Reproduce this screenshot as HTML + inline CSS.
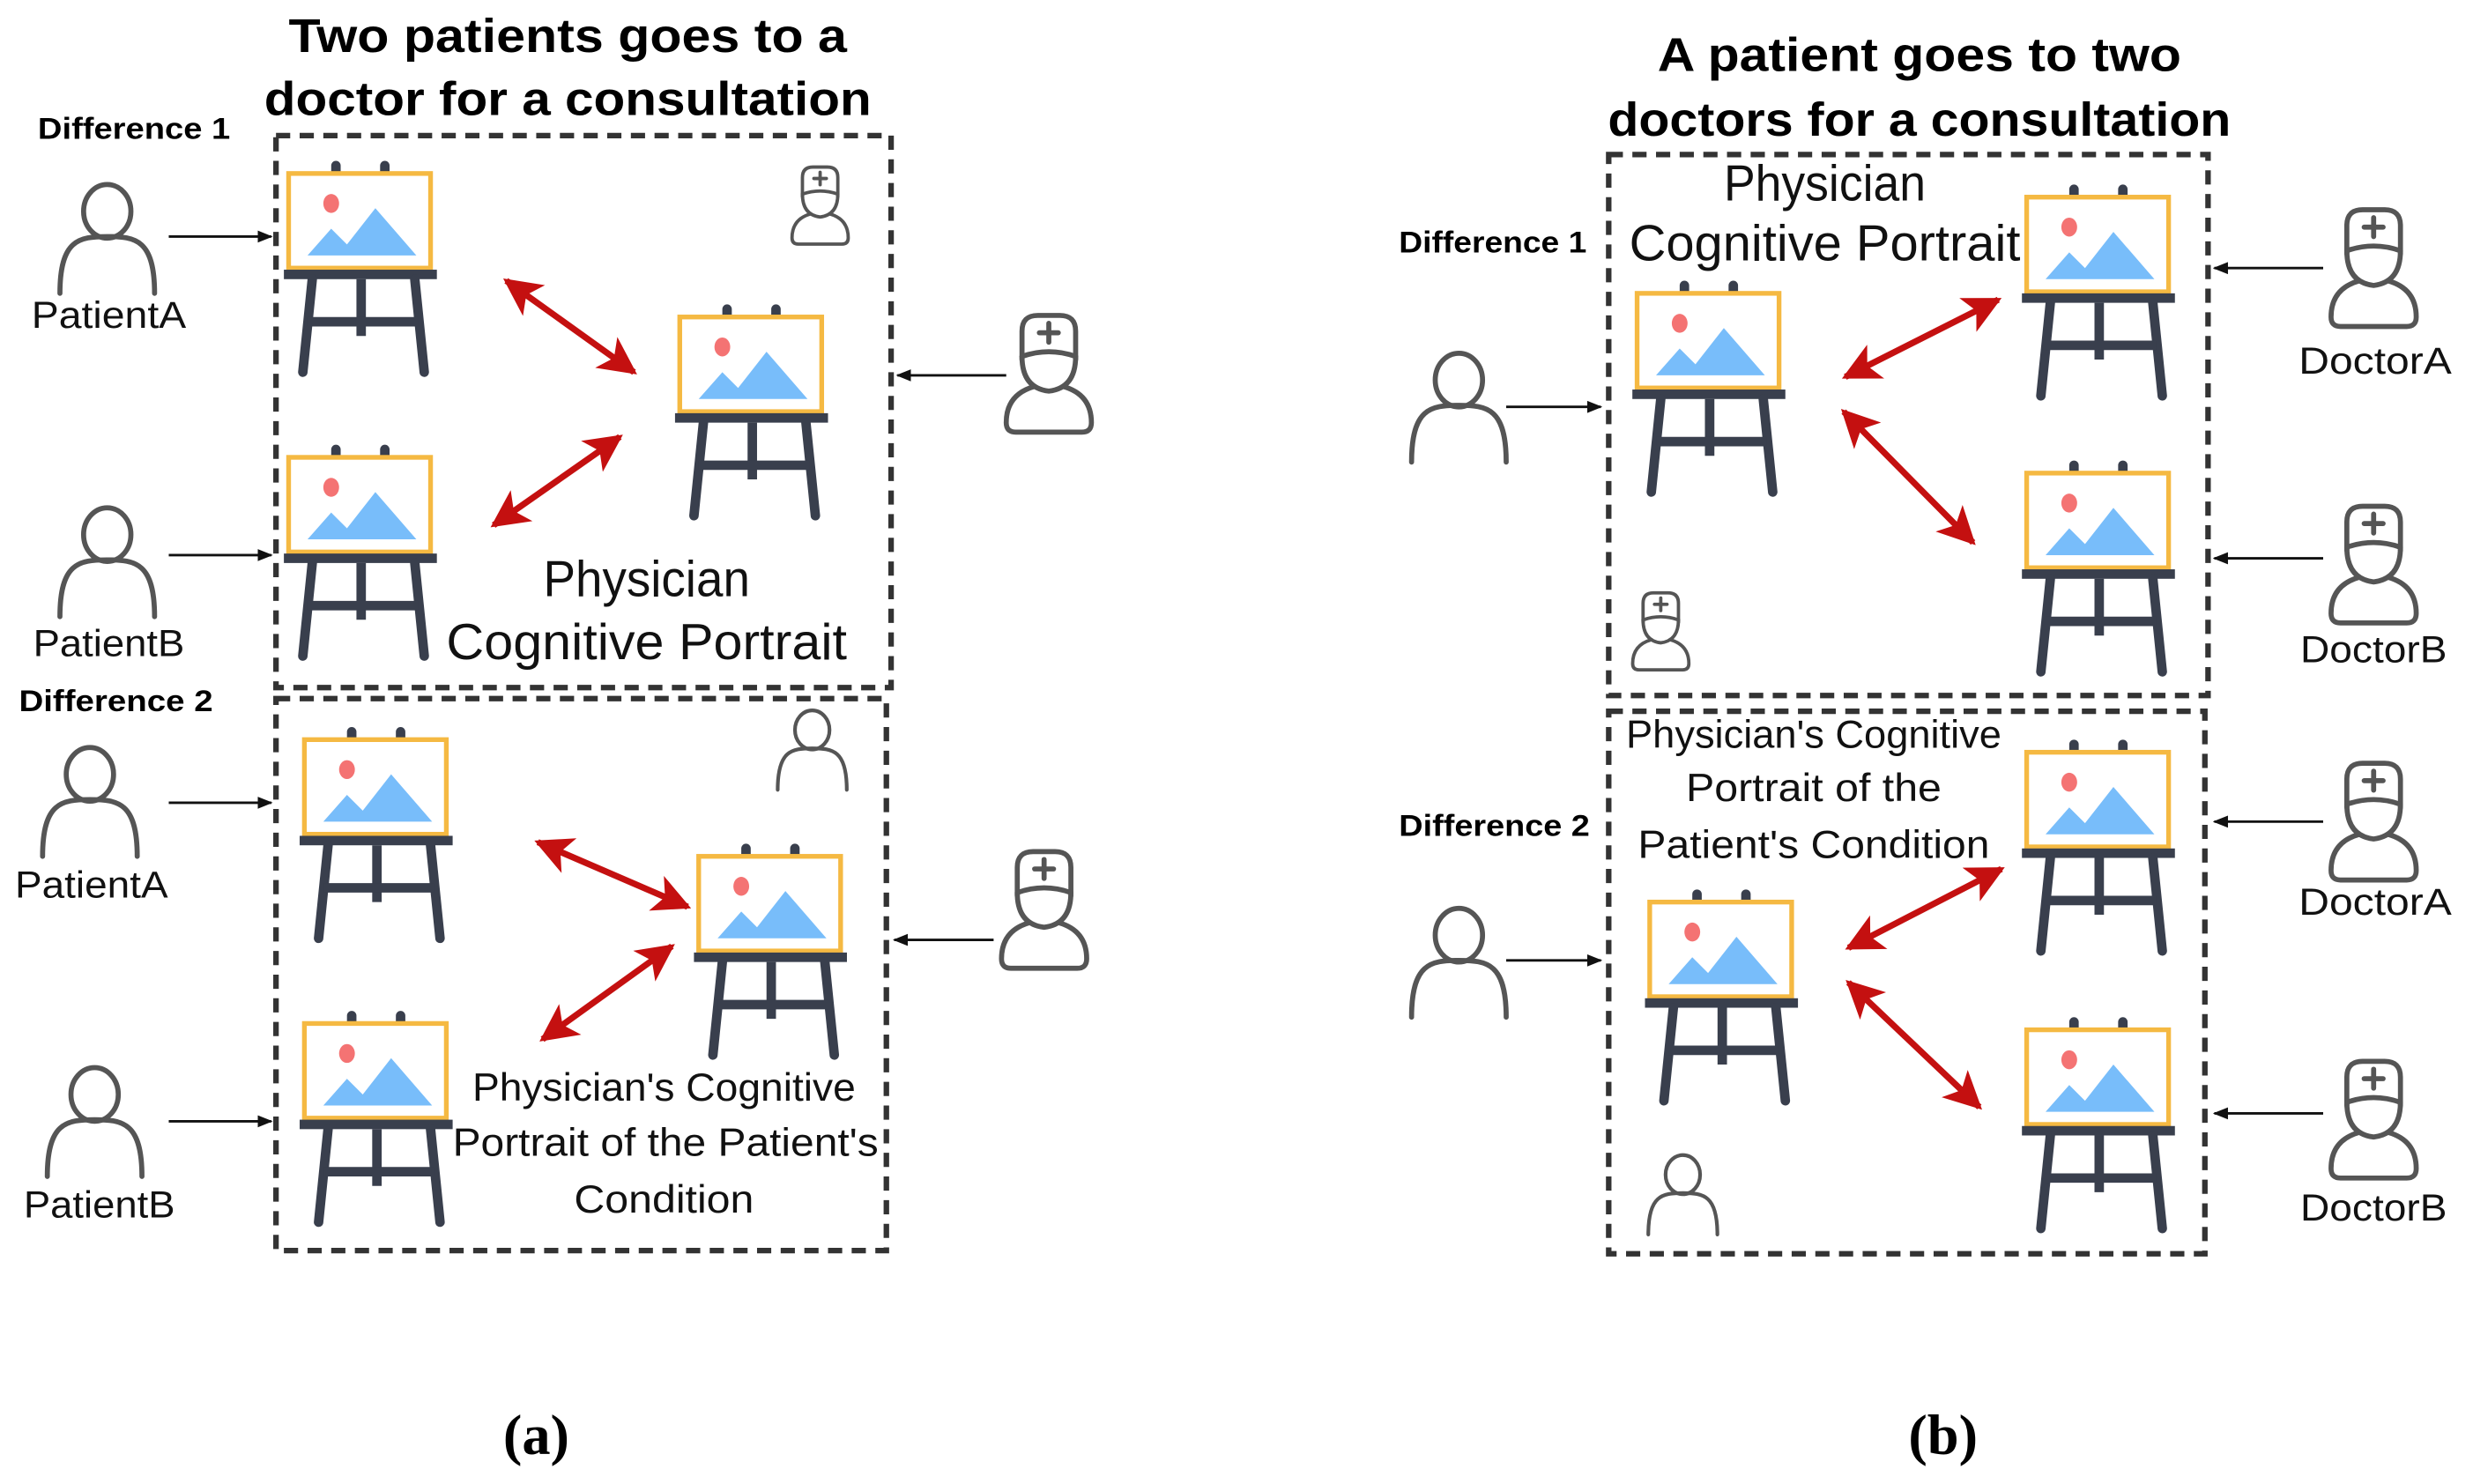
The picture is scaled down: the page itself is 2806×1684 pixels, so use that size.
<!DOCTYPE html>
<html><head><meta charset="utf-8"><style>
html,body{margin:0;padding:0;background:#fff;}
svg{display:block;}
text{font-family:"Liberation Sans","DejaVu Sans",sans-serif;}
.t{font-size:30px;font-weight:bold;text-anchor:middle;fill:#000;}
.d{font-size:19px;font-weight:bold;fill:#000;}
.l{font-size:24px;text-anchor:middle;fill:#111;}
.p{font-size:32px;text-anchor:middle;fill:#111;}
.q{font-size:25px;text-anchor:middle;fill:#111;}
.box{fill:none;stroke:#333;stroke-width:3.5;stroke-dasharray:9,6;}
.red{stroke:#c41010;stroke-width:4;marker-end:url(#ra);marker-start:url(#ra);}
.blk{stroke:#111;stroke-width:1.6;marker-end:url(#ba);}
.ic{fill:none;stroke:#555;stroke-width:3.2;stroke-linejoin:round;stroke-linecap:round;}
</style></head><body>
<svg width="2806" height="1684" viewBox="0 0 1568 941" xmlns="http://www.w3.org/2000/svg">
<defs>
<marker id="ra" viewBox="0 0 10 10" refX="9" refY="5" markerWidth="6" markerHeight="6" orient="auto-start-reverse" markerUnits="strokeWidth"><path d="M0,0 L10,5 L0,10 L2.5,5 Z" fill="#c41010"/></marker>
<marker id="ba" viewBox="0 0 10 10" refX="9" refY="5" markerWidth="6" markerHeight="6" orient="auto" markerUnits="strokeWidth"><path d="M0,1 L10,5 L0,9 Z" fill="#111"/></marker>
<g id="easel">
<rect x="27" y="-8" width="6" height="10" rx="3" fill="#393f4d"/>
<rect x="58" y="-8" width="6" height="10" rx="3" fill="#393f4d"/>
<rect x="0" y="0" width="90" height="60" fill="#fff" stroke="#f5b942" stroke-width="3"/>
<ellipse cx="27" cy="19" rx="5" ry="6" fill="#f47373"/>
<polygon points="12,52 27,35 37,45 55,22 81,52" fill="#78bdfa"/>
<rect x="-3" y="61" width="97" height="6" fill="#393f4d"/>
<g stroke="#393f4d" stroke-width="6" stroke-linecap="round" fill="none">
<line x1="15" y1="67" x2="9" y2="126"/><line x1="80" y1="67" x2="86" y2="126"/>
<line x1="46" y1="67" x2="46" y2="103" stroke-linecap="butt"/><line x1="12" y1="94" x2="82" y2="94" stroke-linecap="butt"/>
</g></g>
<g id="person">
<ellipse cx="0" cy="-18" rx="15" ry="17" class="ic"/>
<path d="M-30,34 C-30,0 -18,-2 0,-2 C18,-2 30,0 30,34" class="ic"/>
</g>
<g id="doctor">
<path d="M-17,-10 L-17,-28 Q-17,-38 -7,-38 L7,-38 Q17,-38 17,-28 L17,-10" class="ic"/>
<path d="M-17,-12 Q0,-18 17,-12" class="ic"/>
<path d="M-17,-12 Q-17,8 0,10 Q17,8 17,-12" class="ic"/>
<path d="M-9,7 Q-27,12 -27,30 Q-27,36 -21,36 L21,36 Q27,36 27,30 Q27,12 9,7" class="ic"/>
<line x1="0" y1="-33" x2="0" y2="-21" class="ic" stroke="#444"/><line x1="-6" y1="-27" x2="6" y2="-27" class="ic" stroke="#444"/>
</g>
</defs>

<!-- Panel a -->
<text x="360" y="33" class="t" textLength="354" lengthAdjust="spacingAndGlyphs">Two patients goes to a</text>
<text x="360" y="73" class="t" textLength="385" lengthAdjust="spacingAndGlyphs">doctor for a consultation</text>
<text x="24" y="88" class="d" textLength="122" lengthAdjust="spacingAndGlyphs">Difference 1</text>
<rect x="175" y="86" width="390" height="350" class="box"/>
<use href="#easel" x="183" y="110"/>
<use href="#easel" x="183" y="290"/>
<use href="#easel" x="431" y="201"/>
<use href="#person" transform="translate(68,152)"/>
<text x="69" y="208" class="l" textLength="98" lengthAdjust="spacingAndGlyphs">PatientA</text>
<use href="#person" transform="translate(68,357)"/>
<text x="69" y="416" class="l" textLength="96" lengthAdjust="spacingAndGlyphs">PatientB</text>
<line x1="107" y1="150" x2="172" y2="150" class="blk"/>
<line x1="107" y1="352" x2="172" y2="352" class="blk"/>
<use href="#doctor" transform="translate(665,238)"/>
<line x1="638" y1="238" x2="569" y2="238" class="blk"/>
<use href="#doctor" transform="translate(520,131) scale(0.66)"/>
<line x1="321" y1="178" x2="402" y2="236" class="red"/>
<line x1="313" y1="333" x2="393" y2="277" class="red"/>
<text x="410" y="378" class="p" textLength="131" lengthAdjust="spacingAndGlyphs">Physician</text>
<text x="410" y="418" class="p" textLength="254" lengthAdjust="spacingAndGlyphs">Cognitive Portrait</text>

<text x="12" y="451" class="d" textLength="123" lengthAdjust="spacingAndGlyphs">Difference 2</text>
<rect x="175" y="443" width="387" height="350" class="box"/>
<use href="#easel" x="193" y="469"/>
<use href="#easel" x="193" y="649"/>
<use href="#easel" x="443" y="543"/>
<use href="#person" transform="translate(57,509)"/>
<text x="58" y="569" class="l" textLength="97" lengthAdjust="spacingAndGlyphs">PatientA</text>
<use href="#person" transform="translate(60,712)"/>
<text x="63" y="772" class="l" textLength="96" lengthAdjust="spacingAndGlyphs">PatientB</text>
<line x1="107" y1="509" x2="172" y2="509" class="blk"/>
<line x1="107" y1="711" x2="172" y2="711" class="blk"/>
<use href="#doctor" transform="translate(662,578)"/>
<line x1="630" y1="596" x2="567" y2="596" class="blk"/>
<use href="#person" transform="translate(515,476) scale(0.73)"/>
<line x1="341" y1="534" x2="436" y2="575" class="red"/>
<line x1="344" y1="659" x2="426" y2="600" class="red"/>
<text x="421" y="698" class="q" textLength="243" lengthAdjust="spacingAndGlyphs">Physician's Cognitive</text>
<text x="422" y="733" class="q" textLength="270" lengthAdjust="spacingAndGlyphs">Portrait of the Patient's</text>
<text x="421" y="769" class="q" textLength="114" lengthAdjust="spacingAndGlyphs">Condition</text>
<text x="340" y="922" style="font-family:'Liberation Serif',serif;font-size:36px;font-weight:bold;text-anchor:middle">(a)</text>

<!-- Panel b -->
<text x="1217" y="45" class="t" textLength="332" lengthAdjust="spacingAndGlyphs">A patient goes to two</text>
<text x="1217" y="86" class="t" textLength="395" lengthAdjust="spacingAndGlyphs">doctors for a consultation</text>
<text x="887" y="160" class="d" textLength="119" lengthAdjust="spacingAndGlyphs">Difference 1</text>
<rect x="1020" y="98" width="380" height="343" class="box"/>
<text x="1157" y="127" class="p" textLength="128" lengthAdjust="spacingAndGlyphs">Physician</text>
<text x="1157" y="165" class="p" textLength="248" lengthAdjust="spacingAndGlyphs">Cognitive Portrait</text>
<use href="#easel" x="1038" y="186"/>
<use href="#easel" x="1285" y="125"/>
<use href="#easel" x="1285" y="300"/>
<use href="#person" transform="translate(925,259)"/>
<line x1="955" y1="258" x2="1015" y2="258" class="blk"/>
<use href="#doctor" transform="translate(1505,171)"/>
<text x="1506" y="237" class="l" textLength="97" lengthAdjust="spacingAndGlyphs">DoctorA</text>
<use href="#doctor" transform="translate(1505,359)"/>
<text x="1505" y="420" class="l" textLength="93" lengthAdjust="spacingAndGlyphs">DoctorB</text>
<line x1="1473" y1="170" x2="1404" y2="170" class="blk"/>
<line x1="1473" y1="354" x2="1404" y2="354" class="blk"/>
<use href="#doctor" transform="translate(1053,401) scale(0.66)"/>
<line x1="1170" y1="239" x2="1267" y2="190" class="red"/>
<line x1="1169" y1="261" x2="1251" y2="344" class="red"/>

<text x="887" y="530" class="d" textLength="121" lengthAdjust="spacingAndGlyphs">Difference 2</text>
<rect x="1020" y="451" width="378" height="344" class="box"/>
<text x="1150" y="474" class="q" textLength="238" lengthAdjust="spacingAndGlyphs">Physician's Cognitive</text>
<text x="1150" y="508" class="q" textLength="162" lengthAdjust="spacingAndGlyphs">Portrait of the</text>
<text x="1150" y="544" class="q" textLength="223" lengthAdjust="spacingAndGlyphs">Patient's  Condition</text>
<use href="#easel" x="1046" y="572"/>
<use href="#easel" x="1285" y="477"/>
<use href="#easel" x="1285" y="653"/>
<use href="#person" transform="translate(925,611)"/>
<line x1="955" y1="609" x2="1015" y2="609" class="blk"/>
<use href="#doctor" transform="translate(1505,522)"/>
<text x="1506" y="580" class="l" textLength="97" lengthAdjust="spacingAndGlyphs">DoctorA</text>
<use href="#doctor" transform="translate(1505,711)"/>
<text x="1505" y="774" class="l" textLength="93" lengthAdjust="spacingAndGlyphs">DoctorB</text>
<line x1="1473" y1="521" x2="1404" y2="521" class="blk"/>
<line x1="1473" y1="706" x2="1404" y2="706" class="blk"/>
<use href="#person" transform="translate(1067,758) scale(0.73)"/>
<line x1="1172" y1="601" x2="1269" y2="551" class="red"/>
<line x1="1172" y1="623" x2="1255" y2="702" class="red"/>
<text x="1232" y="922" style="font-family:'Liberation Serif',serif;font-size:36px;font-weight:bold;text-anchor:middle">(b)</text>
</svg>
</body></html>
